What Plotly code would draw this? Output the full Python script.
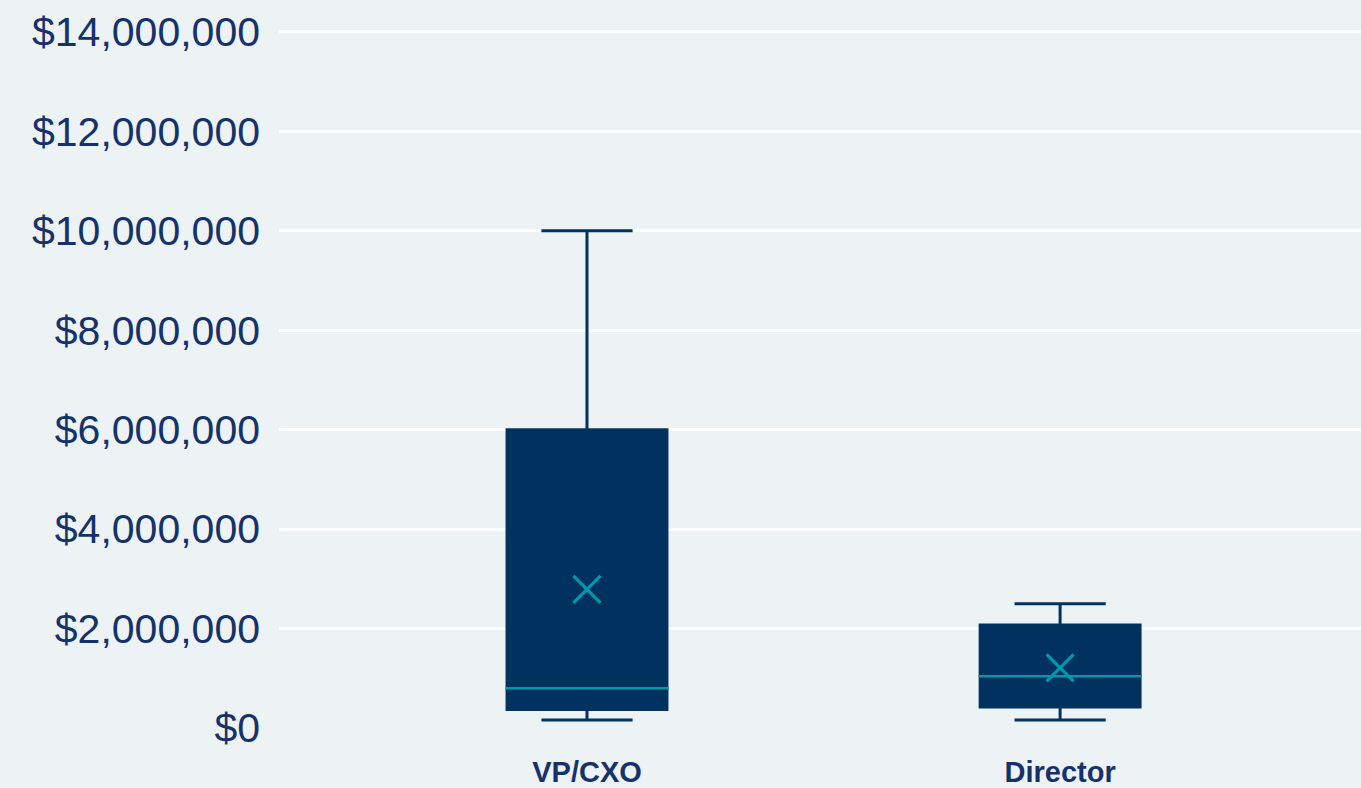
import plotly.graph_objects as go

# Compensation distribution by role level
categories = ["VP/CXO", "Director"]
lower_whisker = [160000, 160000]
q1_values = [370000, 420000]
medians = [800000, 1040000]
q3_values = [6000000, 2070000]
upper_whisker = [10000000, 2500000]
means = [2790000, 1210000]

y_tick_values = [0, 2000000, 4000000, 6000000, 8000000, 10000000, 12000000, 14000000]
y_tick_labels = ["$0", "$2,000,000", "$4,000,000", "$6,000,000", "$8,000,000",
                 "$10,000,000", "$12,000,000", "$14,000,000"]

NAVY = "#00325F"
TEAL = "#0098A8"
TEXT = "#15336A"
BG = "#EDF2F5"
BOX_W = 0.345

positions = list(range(len(categories)))

fig = go.Figure()

for i, name in enumerate(categories):
    fig.add_trace(go.Box(
        x=[positions[i]],
        q1=[q1_values[i]],
        median=[medians[i]],
        q3=[q3_values[i]],
        lowerfence=[lower_whisker[i]],
        upperfence=[upper_whisker[i]],
        width=BOX_W - 0.007,
        whiskerwidth=0.57,
        fillcolor=NAVY,
        line=dict(color=NAVY, width=3),
        name=name,
        showlegend=False,
        hoverinfo="skip",
    ))
    # median drawn in teal across the full box
    fig.add_trace(go.Scatter(
        x=[positions[i] - BOX_W / 2, positions[i] + BOX_W / 2],
        y=[medians[i], medians[i]],
        mode="lines",
        line=dict(color=TEAL, width=2.5),
        showlegend=False,
        hoverinfo="skip",
    ))

# mean markers
fig.add_trace(go.Scatter(
    x=positions,
    y=means,
    mode="markers",
    marker=dict(symbol="x-thin", size=27, line=dict(color=TEAL, width=3.2)),
    showlegend=False,
    hoverinfo="skip",
))

fig.update_layout(
    width=1361,
    height=788,
    margin=dict(l=279, r=0, t=27, b=58),
    paper_bgcolor=BG,
    plot_bgcolor=BG,
    font=dict(family="Liberation Sans, Arial, sans-serif", color=TEXT),
    xaxis=dict(
        range=[-0.651, 1.636],
        tickvals=positions,
        ticktext=[f"<b>{c}</b>" for c in categories],
        tickfont=dict(size=29, color=TEXT),
        showgrid=False,
        zeroline=False,
        showline=False,
        ticks="",
        ticklen=0,
        ticklabelstandoff=24,
    ),
    yaxis=dict(
        range=[0, 14100000],
        tickvals=y_tick_values,
        ticktext=y_tick_labels,
        tickfont=dict(size=41, color=TEXT),
        showgrid=True,
        gridcolor="white",
        gridwidth=3,
        zeroline=False,
        showline=False,
        ticks="",
        ticklabelstandoff=18,
    ),
)

fig.write_html("out.html")
